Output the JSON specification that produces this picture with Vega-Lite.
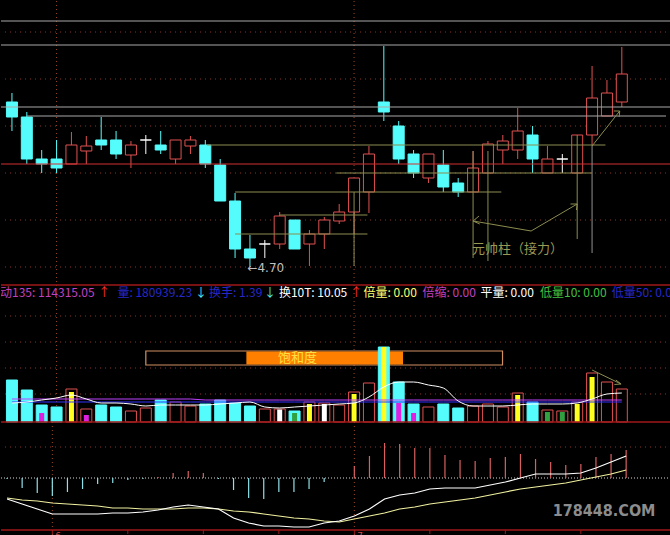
{
"$schema":"https://vega.github.io/schema/vega-lite/v6.json",
"background":"black","padding":0,"spacing":0,"bounds":"flush",
"config":{"view":{"stroke":null},"font":"Noto Sans CJK SC"},
"datasets":{
"candles":[
{"i":1,"o":6.35,"h":6.44,"l":6.06,"c":6.20,"v":168000,"m":-0.005,"dif":-0.105,"dea":-0.10,"v5":76000,"vp":92000,"vb":80000},
{"i":2,"o":6.20,"h":6.25,"l":5.73,"c":5.78,"v":128000,"m":-0.05,"dif":-0.13,"dea":-0.11,"v5":80000,"vp":92000,"vb":80000},
{"i":3,"o":5.78,"h":5.87,"l":5.64,"c":5.73,"v":68000,"f":"倍缩","fv":36000,"m":-0.075,"dif":-0.155,"dea":-0.115,"v5":88000,"vp":92000,"vb":80000},
{"i":4,"o":5.78,"h":5.97,"l":5.64,"c":5.69,"v":60000,"m":-0.09,"dif":-0.18,"dea":-0.125,"v5":96000,"vp":92000,"vb":80000},
{"i":5,"o":5.73,"h":6.05,"l":5.73,"c":5.92,"v":132000,"f":"倍量","fv":120000,"m":-0.07,"dif":-0.18,"dea":-0.13,"v5":108000,"vp":92000,"vb":80000},
{"i":6,"o":5.86,"h":6.01,"l":5.73,"c":5.91,"v":52000,"f":"倍缩","fv":28000,"m":-0.055,"dif":-0.18,"dea":-0.135,"v5":92000,"vp":92000,"vb":80000},
{"i":7,"o":5.97,"h":6.20,"l":5.87,"c":5.92,"v":68000,"m":-0.03,"dif":-0.18,"dea":-0.14,"v5":76000,"vp":92000,"vb":80000},
{"i":8,"o":5.97,"h":6.06,"l":5.78,"c":5.83,"v":60000,"m":-0.025,"dif":-0.175,"dea":-0.15,"v5":76000,"vp":92000,"vb":80000},
{"i":9,"o":5.82,"h":5.96,"l":5.69,"c":5.92,"v":44000,"m":-0.01,"dif":-0.175,"dea":-0.15,"v5":72000,"vp":92000,"vb":80000},
{"i":10,"o":5.97,"h":6.02,"l":5.83,"c":5.97,"v":56000,"m":-0.005,"dif":-0.17,"dea":-0.155,"v5":64000,"vp":92000,"vb":80000},
{"i":11,"o":5.92,"h":6.06,"l":5.83,"c":5.87,"v":88000,"m":0.005,"dif":-0.16,"dea":-0.155,"v5":68000,"vp":92000,"vb":80000},
{"i":12,"o":5.78,"h":5.97,"l":5.73,"c":5.97,"v":80000,"m":0.025,"dif":-0.145,"dea":-0.155,"v5":68000,"vp":92000,"vb":80000},
{"i":13,"o":5.91,"h":6.01,"l":5.83,"c":5.97,"v":64000,"m":0.035,"dif":-0.135,"dea":-0.15,"v5":68000,"vp":92000,"vb":80000},
{"i":14,"o":5.92,"h":5.97,"l":5.69,"c":5.73,"v":72000,"m":0.025,"dif":-0.145,"dea":-0.15,"v5":68000,"vp":88000,"vb":80000},
{"i":15,"o":5.72,"h":5.78,"l":5.36,"c":5.36,"v":88000,"m":-0.005,"dif":-0.155,"dea":-0.155,"v5":72000,"vp":88000,"vb":80000},
{"i":16,"o":5.36,"h":5.44,"l":4.79,"c":4.88,"v":76000,"m":-0.06,"dif":-0.20,"dea":-0.165,"v5":76000,"vp":88000,"vb":80000},
{"i":17,"o":4.88,"h":5.02,"l":4.70,"c":4.79,"v":64000,"m":-0.10,"dif":-0.225,"dea":-0.17,"v5":80000,"vp":88000,"vb":80000},
{"i":18,"o":4.93,"h":4.97,"l":4.79,"c":4.93,"v":52000,"m":-0.105,"dif":-0.24,"dea":-0.18,"v5":60000,"vp":88000,"vb":80000},
{"i":19,"o":4.93,"h":5.25,"l":4.88,"c":5.21,"v":52000,"f":"平量","fv":50000,"m":-0.07,"dif":-0.24,"dea":-0.19,"v5":56000,"vp":88000,"vb":80000},
{"i":20,"o":5.17,"h":5.17,"l":4.88,"c":4.88,"v":44000,"f":"低量10","fv":36000,"m":-0.07,"dif":-0.245,"dea":-0.20,"v5":60000,"vp":88000,"vb":80000},
{"i":21,"o":4.93,"h":5.07,"l":4.71,"c":5.03,"v":80000,"f":"倍量","fv":72000,"m":-0.055,"dif":-0.245,"dea":-0.205,"v5":64000,"vp":88000,"vb":80000},
{"i":22,"o":5.03,"h":5.20,"l":4.88,"c":5.17,"v":76000,"f":"平量","fv":72000,"m":-0.02,"dif":-0.225,"dea":-0.215,"v5":68000,"vp":88000,"vb":80000},
{"i":23,"o":5.16,"h":5.33,"l":5.13,"c":5.25,"v":68000,"m":0,"dif":-0.215,"dea":-0.22,"v5":72000,"vp":88000,"vb":80000},
{"i":24,"o":5.25,"h":5.59,"l":5.03,"c":5.59,"v":120000,"f":"倍量","fv":112000,"m":0.06,"dif":-0.19,"dea":-0.205,"v5":76000,"vp":88000,"vb":80000},
{"i":25,"o":5.45,"h":5.91,"l":5.24,"c":5.83,"v":156000,"m":0.11,"dif":-0.155,"dea":-0.19,"v5":100000,"vp":88000,"vb":80000},
{"i":26,"o":6.35,"h":6.91,"l":6.16,"c":6.25,"v":300000,"f":"倍量","fv":300000,"m":0.175,"dif":-0.105,"dea":-0.175,"v5":140000,"vp":88000,"vb":80000},
{"i":27,"o":6.11,"h":6.16,"l":5.73,"c":5.78,"v":160000,"f":"倍缩","fv":76000,"m":0.17,"dif":-0.085,"dea":-0.155,"v5":160000,"vp":88000,"vb":80000},
{"i":28,"o":5.83,"h":5.87,"l":5.59,"c":5.64,"v":72000,"f":"倍缩","fv":36000,"m":0.15,"dif":-0.075,"dea":-0.145,"v5":160000,"vp":88000,"vb":80000},
{"i":29,"o":5.59,"h":5.83,"l":5.54,"c":5.83,"v":60000,"m":0.15,"dif":-0.055,"dea":-0.13,"v5":148000,"vp":88000,"vb":80000},
{"i":30,"o":5.72,"h":5.87,"l":5.45,"c":5.50,"v":72000,"m":0.115,"dif":-0.05,"dea":-0.12,"v5":136000,"vp":88000,"vb":80000},
{"i":31,"o":5.54,"h":5.59,"l":5.40,"c":5.45,"v":56000,"m":0.09,"dif":-0.05,"dea":-0.11,"v5":84000,"vp":88000,"vb":80000},
{"i":32,"o":5.45,"h":5.86,"l":5.45,"c":5.69,"v":64000,"m":0.085,"dif":-0.05,"dea":-0.10,"v5":64000,"vp":88000,"vb":80000},
{"i":33,"o":5.64,"h":5.96,"l":5.64,"c":5.93,"v":72000,"m":0.10,"dif":-0.035,"dea":-0.085,"v5":64000,"vp":88000,"vb":80000},
{"i":34,"o":5.87,"h":6.02,"l":5.73,"c":5.96,"v":60000,"m":0.105,"dif":-0.02,"dea":-0.07,"v5":64000,"vp":88000,"vb":80000},
{"i":35,"o":5.87,"h":6.29,"l":5.78,"c":6.06,"v":116000,"f":"倍量","fv":108000,"m":0.12,"dif":0,"dea":-0.055,"v5":68000,"vp":88000,"vb":80000},
{"i":36,"o":6.02,"h":6.11,"l":5.64,"c":5.78,"v":80000,"m":0.095,"dif":0.02,"dea":-0.045,"v5":72000,"vp":88000,"vb":80000},
{"i":37,"o":5.64,"h":5.91,"l":5.64,"c":5.78,"v":48000,"f":"低量10","fv":40000,"m":0.08,"dif":0.02,"dea":-0.035,"v5":72000,"vp":88000,"vb":80000},
{"i":38,"o":5.78,"h":5.83,"l":5.64,"c":5.78,"v":44000,"f":"低量10","fv":40000,"m":0.065,"dif":0.02,"dea":-0.025,"v5":72000,"vp":88000,"vb":80000},
{"i":39,"o":5.64,"h":6.02,"l":5.64,"c":6.02,"v":80000,"f":"倍量","fv":72000,"m":0.07,"dif":0.025,"dea":-0.01,"v5":76000,"vp":88000,"vb":80000},
{"i":40,"o":6.02,"h":6.71,"l":5.91,"c":6.39,"v":196000,"f":"倍量","fv":180000,"m":0.105,"dif":0.05,"dea":0.005,"v5":92000,"vp":88000,"vb":80000},
{"i":41,"o":6.21,"h":6.57,"l":6.21,"c":6.44,"v":160000,"m":0.12,"dif":0.08,"dea":0.02,"v5":112000,"vp":88000,"vb":80000},
{"i":42,"o":6.35,"h":6.90,"l":6.30,"c":6.63,"v":132000,"m":0.14,"dif":0.11,"dea":0.04,"v5":116000,"vp":88000,"vb":80000}
],
"months":[{"i":4},{"i":24}],
"priceGrid":[{"p":7.05},{"p":6.58},{"p":6.11},{"p":5.64},{"p":5.17},{"p":4.70}],
"hlines":[{"p":7.16,"k":"gray"},{"p":6.92,"k":"gray"},{"p":6.30,"k":"gray"},{"p":5.73,"k":"red"}],
"hsegs":[{"i1":2,"i2":44.97,"p":6.21,"k":"gray"},{"i1":14.1,"i2":40.9,"p":5.92,"k":"olive"},{"i1":22.8,"i2":40,"p":5.64,"k":"olive"},{"i1":16,"i2":33.9,"p":5.45,"k":"olive"},{"i1":19,"i2":24.9,"p":5.22,"k":"olive"},{"i1":16,"i2":24.9,"p":5.03,"k":"olive"}],
"vsegs":[{"i":24,"p1":5.45,"p2":4.71,"k":"olive"},{"i":32,"p1":5.86,"p2":4.79,"k":"olive"},{"i":33,"p1":5.86,"p2":4.76,"k":"olive"},{"i":39,"p1":6.02,"p2":4.98,"k":"olive"},{"i":40,"p1":5.91,"p2":4.84,"k":"olivegray"}],
"parrows":[
{"g":"a1","o":1,"i":39,"p":5.33},{"g":"a1","o":2,"i":35.9,"p":5.06},{"g":"a1","o":3,"i":32,"p":5.16},
{"g":"h1","o":1,"i":32.4,"p":5.21},{"g":"h1","o":2,"i":32,"p":5.16},{"g":"h1","o":3,"i":32.45,"p":5.13},
{"g":"h2","o":1,"i":38.55,"p":5.33},{"g":"h2","o":2,"i":39,"p":5.33},{"g":"h2","o":3,"i":38.95,"p":5.27},
{"g":"a2","o":1,"i":40,"p":5.91},{"g":"a2","o":2,"i":41.86,"p":6.26},
{"g":"h3","o":1,"i":41.45,"p":6.26},{"g":"h3","o":2,"i":41.86,"p":6.26},{"g":"h3","o":3,"i":41.82,"p":6.20}
],
"volGrid":[{"v":424000},{"v":320000},{"v":216000},{"v":112000}],
"varrows":[
{"g":"a","o":1,"i":40,"v":208000},{"g":"a","o":2,"i":41.95,"v":152000},
{"g":"h","o":1,"i":41.5,"v":150000},{"g":"h","o":2,"i":41.95,"v":152000},{"g":"h","o":3,"i":41.6,"v":168000}
],
"header":[
{"t":"动135: 114315.05","i":0.2,"k":"mtm"},
{"t":"↑","i":6.8,"k":"up"},
{"t":"量: 180939.23","i":8.09,"k":"vol"},
{"t":"↓","i":13.3,"k":"down"},
{"t":"换手: 1.39","i":14.25,"k":"vol"},
{"t":"↓","i":17.95,"k":"down"},
{"t":"换10T: 10.05","i":18.95,"k":"white"},
{"t":"↑","i":23.75,"k":"up"},
{"t":"倍量: 0.00","i":24.64,"k":"bei"},
{"t":"倍缩: 0.00","i":28.6,"k":"suo"},
{"t":"平量: 0.00","i":32.5,"k":"white"},
{"t":"低量10: 0.00","i":36.5,"k":"green"},
{"t":"低量50: 0.00","i":41.33,"k":"vol"}
],
"ticks":[{"i":4},{"i":9},{"i":14},{"i":19},{"i":24},{"i":29},{"i":34},{"i":39}],
"monthLabels":[{"t":"6","i":4.2},{"t":"7","i":24.2}]
},
"vconcat":[
{"width":670,"height":284,
"layer":[
{"data":{"name":"priceGrid"},"mark":{"type":"rule","color":"#8a3525","strokeDash":[1,4]},
 "encoding":{"y":{"field":"p","type":"quantitative","scale":{"domain":[4.52,7.36],"nice":false,"zero":false},"axis":null}}},
{"data":{"name":"months"},"mark":{"type":"rule","color":"#a04525","strokeDash":[1,3]},
 "encoding":{"x":{"field":"i","type":"quantitative","scale":{"domain":[0.6,44.97],"nice":false,"zero":false},"axis":null}}},
{"data":{"name":"candles"},"mark":{"type":"rule","strokeWidth":1},
 "encoding":{"x":{"field":"i","type":"quantitative","scale":{"domain":[0.6,44.97],"nice":false,"zero":false},"axis":null},
  "y":{"field":"l","type":"quantitative","scale":{"domain":[4.52,7.36],"nice":false,"zero":false},"axis":null},
  "y2":{"field":"h"},
  "color":{"condition":[{"test":"datum.c > datum.o","value":"#e05050"},{"test":"datum.c == datum.o","value":"#ffffff"}],"value":"#54fcfc"}}},
{"data":{"name":"candles"},"mark":{"type":"bar","width":11,"strokeWidth":1},
 "encoding":{"x":{"field":"i","type":"quantitative","scale":{"domain":[0.6,44.97],"nice":false,"zero":false},"axis":null},
  "y":{"field":"o","type":"quantitative","scale":{"domain":[4.52,7.36],"nice":false,"zero":false},"axis":null},
  "y2":{"field":"c"},
  "fill":{"condition":[{"test":"datum.c > datum.o","value":"#000000"},{"test":"datum.c == datum.o","value":"#ffffff"}],"value":"#54fcfc"},
  "stroke":{"condition":[{"test":"datum.c > datum.o","value":"#e05050"},{"test":"datum.c == datum.o","value":"#ffffff"}],"value":"#54fcfc"}}},
{"data":{"name":"hlines"},"mark":{"type":"rule","strokeWidth":1},
 "encoding":{"y":{"field":"p","type":"quantitative","scale":{"domain":[4.52,7.36],"nice":false,"zero":false},"axis":null},
  "color":{"field":"k","type":"nominal","scale":{"domain":["gray","red","olive","olivegray"],"range":["#a8a8a8","#d03030","#8c8c50","#909090"]},"legend":null}}},
{"data":{"name":"hsegs"},"mark":{"type":"rule","strokeWidth":1},
 "encoding":{"x":{"field":"i1","type":"quantitative","scale":{"domain":[0.6,44.97],"nice":false,"zero":false},"axis":null},
  "x2":{"field":"i2"},
  "y":{"field":"p","type":"quantitative","scale":{"domain":[4.52,7.36],"nice":false,"zero":false},"axis":null},
  "color":{"field":"k","type":"nominal","scale":{"domain":["gray","red","olive","olivegray"],"range":["#a8a8a8","#d03030","#8c8c50","#909090"]},"legend":null}}},
{"data":{"name":"vsegs"},"mark":{"type":"rule","strokeWidth":1},
 "encoding":{"x":{"field":"i","type":"quantitative","scale":{"domain":[0.6,44.97],"nice":false,"zero":false},"axis":null},
  "y":{"field":"p1","type":"quantitative","scale":{"domain":[4.52,7.36],"nice":false,"zero":false},"axis":null},
  "y2":{"field":"p2"},
  "color":{"field":"k","type":"nominal","scale":{"domain":["gray","red","olive","olivegray"],"range":["#a8a8a8","#d03030","#8c8c50","#909090"]},"legend":null}}},
{"data":{"name":"parrows"},"mark":{"type":"line","color":"#8c8c50","strokeWidth":1},
 "encoding":{"x":{"field":"i","type":"quantitative","scale":{"domain":[0.6,44.97],"nice":false,"zero":false},"axis":null},
  "y":{"field":"p","type":"quantitative","scale":{"domain":[4.52,7.36],"nice":false,"zero":false},"axis":null},
  "detail":{"field":"g","type":"nominal"},"order":{"field":"o","type":"quantitative"}}},
{"data":{"values":[{"t":"←4.70","i":16.83,"p":4.69}]},"mark":{"type":"text","align":"left","baseline":"middle","fontSize":12,"font":"DejaVu Sans","color":"#c0c0c0"},
 "encoding":{"x":{"field":"i","type":"quantitative","scale":{"domain":[0.6,44.97],"nice":false,"zero":false},"axis":null},
  "y":{"field":"p","type":"quantitative","scale":{"domain":[4.52,7.36],"nice":false,"zero":false},"axis":null},
  "text":{"field":"t"}}},
{"data":{"values":[{"t":"元帅柱（接力）","i":31.93,"p":4.88}]},"mark":{"type":"text","align":"left","baseline":"middle","fontSize":13,"color":"#9a9a55"},
 "encoding":{"x":{"field":"i","type":"quantitative","scale":{"domain":[0.6,44.97],"nice":false,"zero":false},"axis":null},
  "y":{"field":"p","type":"quantitative","scale":{"domain":[4.52,7.36],"nice":false,"zero":false},"axis":null},
  "text":{"field":"t"}}}
]},
{"width":670,"height":137,
"resolve":{"scale":{"color":"independent"}},
"layer":[
{"data":{"name":"volGrid"},"mark":{"type":"rule","color":"#8a3525","strokeDash":[1,4]},
 "encoding":{"y":{"field":"v","type":"quantitative","scale":{"domain":[0,548000],"nice":false,"zero":false},"axis":null}}},
{"data":{"name":"months"},"mark":{"type":"rule","color":"#a04525","strokeDash":[1,3]},
 "encoding":{"x":{"field":"i","type":"quantitative","scale":{"domain":[0.6,44.97],"nice":false,"zero":false},"axis":null}}},
{"data":{"values":[{"i1":10.0,"i2":33.98,"v1":284000,"v2":228000}]},"mark":{"type":"rect","fill":"#000000","stroke":"#d09060","strokeWidth":1.2},
 "encoding":{"x":{"field":"i1","type":"quantitative","scale":{"domain":[0.6,44.97],"nice":false,"zero":false},"axis":null},"x2":{"field":"i2"},
  "y":{"field":"v1","type":"quantitative","scale":{"domain":[0,548000],"nice":false,"zero":false},"axis":null},"y2":{"field":"v2"}}},
{"data":{"values":[{"i1":16.76,"i2":27.29,"v1":282000,"v2":230000}]},"mark":{"type":"rect","fill":"#ff8000"},
 "encoding":{"x":{"field":"i1","type":"quantitative","scale":{"domain":[0.6,44.97],"nice":false,"zero":false},"axis":null},"x2":{"field":"i2"},
  "y":{"field":"v1","type":"quantitative","scale":{"domain":[0,548000],"nice":false,"zero":false},"axis":null},"y2":{"field":"v2"}}},
{"data":{"values":[{"t":"饱和度","i":20.2,"v":258000}]},"mark":{"type":"text","align":"center","baseline":"middle","fontSize":13,"color":"#ffe040"},
 "encoding":{"x":{"field":"i","type":"quantitative","scale":{"domain":[0.6,44.97],"nice":false,"zero":false},"axis":null},
  "y":{"field":"v","type":"quantitative","scale":{"domain":[0,548000],"nice":false,"zero":false},"axis":null},"text":{"field":"t"}}},
{"data":{"name":"candles"},"mark":{"type":"bar","width":11,"strokeWidth":1},
 "encoding":{"x":{"field":"i","type":"quantitative","scale":{"domain":[0.6,44.97],"nice":false,"zero":false},"axis":null},
  "y":{"field":"v","type":"quantitative","scale":{"domain":[0,548000],"nice":false,"zero":false},"axis":null},
  "y2":{"datum":0},
  "fill":{"condition":{"test":"datum.c >= datum.o","value":"#000000"},"value":"#54fcfc"},
  "stroke":{"condition":{"test":"datum.c >= datum.o","value":"#e05050"},"value":"#54fcfc"}}},
{"data":{"name":"candles"},"transform":[{"filter":"isValid(datum.fv)"}],"mark":{"type":"bar","width":5},
 "encoding":{"x":{"field":"i","type":"quantitative","scale":{"domain":[0.6,44.97],"nice":false,"zero":false},"axis":null},
  "y":{"field":"fv","type":"quantitative","scale":{"domain":[0,548000],"nice":false,"zero":false},"axis":null},
  "y2":{"datum":0},
  "color":{"field":"f","type":"nominal","scale":{"domain":["倍量","倍缩","平量","低量10"],"range":["#ffff20","#e020e0","#ffffff","#30a040"]},"legend":null}}},
{"data":{"name":"candles"},"mark":{"type":"line","color":"#3030ff","strokeWidth":1},
 "encoding":{"x":{"field":"i","type":"quantitative","scale":{"domain":[0.6,44.97],"nice":false,"zero":false},"axis":null},
  "y":{"field":"vb","type":"quantitative","scale":{"domain":[0,548000],"nice":false,"zero":false},"axis":null}}},
{"data":{"name":"candles"},"mark":{"type":"line","color":"#c040ff","strokeWidth":1},
 "encoding":{"x":{"field":"i","type":"quantitative","scale":{"domain":[0.6,44.97],"nice":false,"zero":false},"axis":null},
  "y":{"field":"vp","type":"quantitative","scale":{"domain":[0,548000],"nice":false,"zero":false},"axis":null}}},
{"data":{"name":"candles"},"mark":{"type":"line","color":"#ffffff","strokeWidth":1,"interpolate":"monotone"},
 "encoding":{"x":{"field":"i","type":"quantitative","scale":{"domain":[0.6,44.97],"nice":false,"zero":false},"axis":null},
  "y":{"field":"v5","type":"quantitative","scale":{"domain":[0,548000],"nice":false,"zero":false},"axis":null}}},
{"data":{"name":"varrows"},"mark":{"type":"line","color":"#8c8c50","strokeWidth":1},
 "encoding":{"x":{"field":"i","type":"quantitative","scale":{"domain":[0.6,44.97],"nice":false,"zero":false},"axis":null},
  "y":{"field":"v","type":"quantitative","scale":{"domain":[0,548000],"nice":false,"zero":false},"axis":null},
  "detail":{"field":"g","type":"nominal"},"order":{"field":"o","type":"quantitative"}}},
{"data":{"name":"header"},"mark":{"type":"text","align":"left","baseline":"middle","fontSize":12,"clip":true},
 "encoding":{"x":{"field":"i","type":"quantitative","scale":{"domain":[0.6,44.97],"nice":false,"zero":false},"axis":null},
  "y":{"datum":516000,"type":"quantitative","scale":{"domain":[0,548000],"nice":false,"zero":false},"axis":null},
  "text":{"field":"t"},
  "color":{"field":"k","type":"nominal","scale":{"domain":["mtm","up","vol","down","white","bei","suo","green"],"range":["#c040c0","#ff3030","#2828c8","#50f0f0","#ffffff","#ffff70","#c040c0","#40c040"]},"legend":null}}},
{"data":{"values":[{"v":548000},{"v":0}]},"mark":{"type":"rule","color":"#a01818","strokeWidth":1.5},
 "encoding":{"y":{"field":"v","type":"quantitative","scale":{"domain":[0,548000],"nice":false,"zero":false},"axis":null}}}
]},
{"width":670,"height":114,
"layer":[
{"data":{"values":[{"m":0.155}]},"mark":{"type":"rule","color":"#8a3525","strokeDash":[1,4]},
 "encoding":{"y":{"field":"m","type":"quantitative","scale":{"domain":[-0.29,0.28],"nice":false,"zero":false},"axis":null}}},
{"data":{"values":[{"m":0}]},"mark":{"type":"rule","color":"#d8d8d8","strokeDash":[1,2]},
 "encoding":{"y":{"field":"m","type":"quantitative","scale":{"domain":[-0.29,0.28],"nice":false,"zero":false},"axis":null}}},
{"data":{"name":"months"},"mark":{"type":"rule","color":"#a04525","strokeDash":[1,3]},
 "encoding":{"x":{"field":"i","type":"quantitative","scale":{"domain":[0.6,44.97],"nice":false,"zero":false},"axis":null}}},
{"data":{"name":"candles"},"mark":{"type":"rule","strokeWidth":1.2},
 "encoding":{"x":{"field":"i","type":"quantitative","scale":{"domain":[0.6,44.97],"nice":false,"zero":false},"axis":null},
  "y":{"field":"m","type":"quantitative","scale":{"domain":[-0.29,0.28],"nice":false,"zero":false},"axis":null},
  "y2":{"datum":0},
  "color":{"condition":{"test":"datum.m > 0","value":"#d86060"},"value":"#90e0e8"}}},
{"data":{"name":"candles"},"mark":{"type":"line","color":"#f0f0a0","strokeWidth":1.2},
 "encoding":{"x":{"field":"i","type":"quantitative","scale":{"domain":[0.6,44.97],"nice":false,"zero":false},"axis":null},
  "y":{"field":"dea","type":"quantitative","scale":{"domain":[-0.29,0.28],"nice":false,"zero":false},"axis":null}}},
{"data":{"name":"candles"},"mark":{"type":"line","color":"#ffffff","strokeWidth":1.2},
 "encoding":{"x":{"field":"i","type":"quantitative","scale":{"domain":[0.6,44.97],"nice":false,"zero":false},"axis":null},
  "y":{"field":"dif","type":"quantitative","scale":{"domain":[-0.29,0.28],"nice":false,"zero":false},"axis":null}}},
{"data":{"values":[{"m":-0.26}]},"mark":{"type":"rule","color":"#a01818","strokeWidth":1.5},
 "encoding":{"y":{"field":"m","type":"quantitative","scale":{"domain":[-0.29,0.28],"nice":false,"zero":false},"axis":null}}},
{"data":{"name":"ticks"},"mark":{"type":"rule","color":"#a01818"},
 "encoding":{"x":{"field":"i","type":"quantitative","scale":{"domain":[0.6,44.97],"nice":false,"zero":false},"axis":null},
  "y":{"datum":-0.26,"type":"quantitative","scale":{"domain":[-0.29,0.28],"nice":false,"zero":false},"axis":null},
  "y2":{"datum":-0.28}}},
{"data":{"name":"monthLabels"},"mark":{"type":"text","align":"left","baseline":"top","fontSize":9,"font":"DejaVu Sans","color":"#d04848"},
 "encoding":{"x":{"field":"i","type":"quantitative","scale":{"domain":[0.6,44.97],"nice":false,"zero":false},"axis":null},
  "y":{"datum":-0.268,"type":"quantitative","scale":{"domain":[-0.29,0.28],"nice":false,"zero":false},"axis":null},
  "text":{"field":"t"}}},
{"data":{"values":[{"t":"178448.COM","i":40.54,"m":-0.165}]},"mark":{"type":"text","align":"center","baseline":"middle","fontSize":16,"fontWeight":"bold","font":"DejaVu Sans Condensed","color":"#8c8c8c"},
 "encoding":{"x":{"field":"i","type":"quantitative","scale":{"domain":[0.6,44.97],"nice":false,"zero":false},"axis":null},
  "y":{"field":"m","type":"quantitative","scale":{"domain":[-0.29,0.28],"nice":false,"zero":false},"axis":null},
  "text":{"field":"t"}}}
]}
]
}
